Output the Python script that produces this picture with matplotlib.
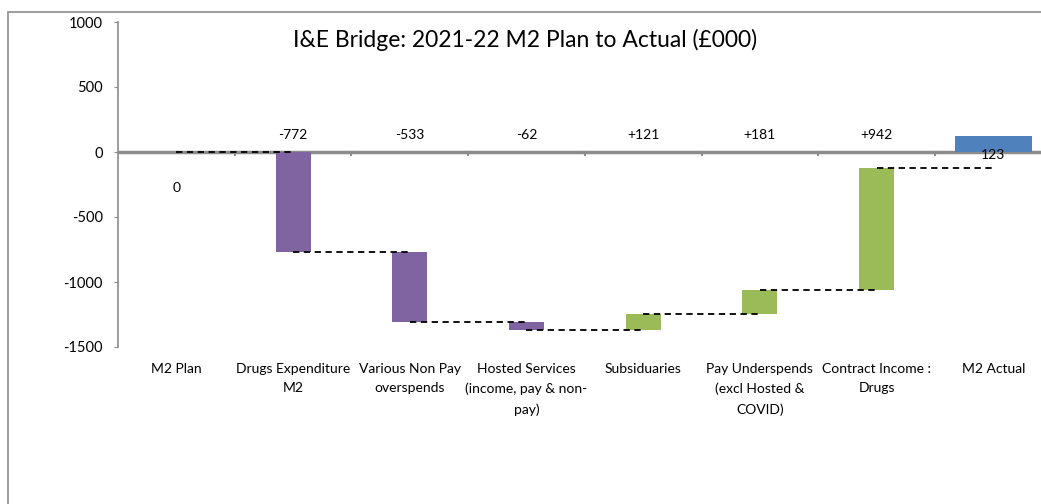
import numpy as np
import matplotlib.pyplot as plt
from matplotlib.patches import Rectangle

plt.rcParams['font.family'] = ['Lato', 'DejaVu Sans']
plt.rcParams['axes.unicode_minus'] = False

categories = ['M2 Plan', 'Drugs Expenditure\nM2', 'Various Non Pay\noverspends',
              'Hosted Services\n(income, pay & non-\npay)', 'Subsiduaries',
              'Pay Underspends\n(excl Hosted &\nCOVID)', 'Contract Income :\nDrugs', 'M2 Actual']
plan = 0
changes = [-772, -533, -62, 121, 181, 942]
actual = 123

purple = '#8064A2'
green = '#9BBB59'
blue = '#4F81BD'
grey = '#8C8C8C'

fig = plt.figure(figsize=(10.41, 5.04), dpi=100)
fig.patches.append(Rectangle((8 / 1041, -0.1), 1.1, 1 - 12 / 504 + 0.1, transform=fig.transFigure,
                             fill=False, edgecolor=grey, lw=1.2))

ax = fig.add_axes([118 / 1041, 1 - 347 / 504, 933.6 / 1041, 325 / 504])
ax.set_xlim(-0.5, 7.5)
ax.set_ylim(-1500, 1000)

# running totals before and after each movement
totals = plan + np.cumsum(changes)
starts = np.concatenate([[plan], totals[:-1]])
x = np.arange(len(categories))

# movement bars
for i, (s, c) in enumerate(zip(starts, changes)):
    ax.bar(x[i + 1], c, bottom=s, width=0.3, color=purple if c < 0 else green, zorder=2)
ax.bar(x[-1], actual, width=0.66, color=blue, zorder=2)

# connector lines between bar centres
levels = np.concatenate([[plan], totals])
for i, lev in enumerate(levels):
    ax.plot([x[i], x[i + 1]], [lev, lev], color='black', lw=1.3, ls=(0, (3.5, 2.5)), zorder=3)

# zero line with category boundary ticks
ax.axhline(0, color=grey, lw=2.5, zorder=1)
for b in x[:-1] + 0.5:
    ax.plot([b, b], [0, -20], color=grey, lw=1.5, zorder=1)

# value labels
ax.text(x[0], -277, f'{plan}', ha='center', va='center', fontsize=10)
for i, c in enumerate(changes):
    ax.text(x[i + 1], 130, f'{c:+d}', ha='center', va='center', fontsize=10)
ax.text(x[-1], -20, f'{actual}', ha='center', va='center', fontsize=10, zorder=4)

# category names under the plot area
for i, lab in enumerate(categories):
    ax.text(x[i], -1620, lab, ha='center', va='top', fontsize=10, linespacing=1.75,
            clip_on=False)

ax.set_xticks([])
ax.set_yticks([-1500, -1000, -500, 0, 500, 1000])
ax.tick_params(axis='y', length=3, color=grey, labelsize=10.5, pad=8)
for side in ['top', 'right', 'bottom']:
    ax.spines[side].set_visible(False)
ax.spines['left'].set_color(grey)
ax.spines['left'].set_linewidth(1.2)

fig.text(525 / 1041, 1 - 40 / 504, 'I&E Bridge: 2021-22 M2 Plan to Actual (£000)',
         ha='center', va='center', fontsize=16.5)

fig.savefig('out.png', dpi=100)
